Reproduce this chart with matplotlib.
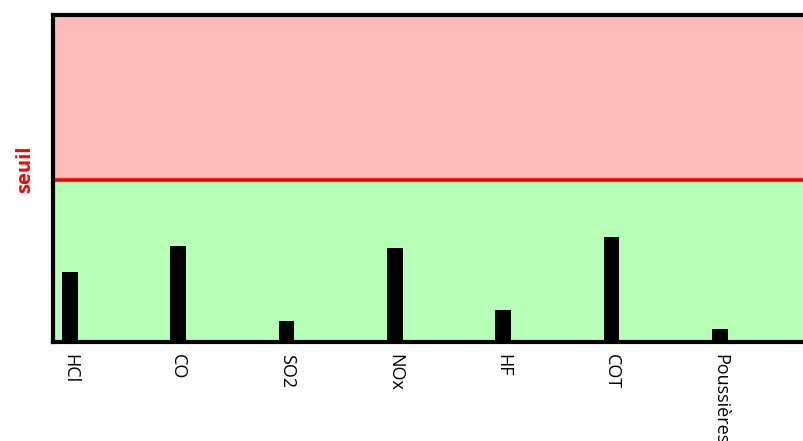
import matplotlib
matplotlib.use("Agg")
import matplotlib.pyplot as plt
import numpy as np

categories = ["HCl", "CO", "SO2", "NOx", "HF", "COT", "Poussières"]
values = [43, 59, 13, 58, 20, 65, 8]
threshold = 100
ymax = 202

W, H = 804, 441
fig = plt.figure(figsize=(W / 100, H / 100), dpi=100)
left_px, right_px, top_px, bottom_px = 53, 830, 15, 342
ax = fig.add_axes([left_px / W, 1 - bottom_px / H, (right_px - left_px) / W, (bottom_px - top_px) / H])

x = np.arange(len(categories))
spacing_px = 108.3
x0 = -(70 - left_px) / spacing_px
ax.set_xlim(x0, x0 + (right_px - left_px) / spacing_px)
ax.set_ylim(0, ymax)

ax.axhspan(0, threshold, color="#b7ffb7", zorder=0)
ax.axhspan(threshold, ymax, color="#ffbaba", zorder=0)
ax.axhline(threshold, color="#ff0000", lw=2.6, zorder=2)

ax.bar(x, values, width=0.145, color="black", zorder=3)

ax.set_xticks(x)
ax.set_xticklabels(categories, rotation=-90, fontsize=13, family="Open Sans", va="top", ha="center")
ax.tick_params(axis="x", length=0, pad=9)
for lbl in ax.get_xticklabels():
    lbl.set_x(lbl.get_position()[0])
ax.set_yticks([])

for s in ["left", "top", "bottom"]:
    ax.spines[s].set_linewidth(3)
    ax.spines[s].set_color("black")
ax.spines["right"].set_visible(False)

ax.text(-0.036, 107, "seuil", color="#ff0000", fontsize=14.5, fontweight="bold", family="Open Sans",
        rotation=90, ha="center", va="center", transform=ax.get_yaxis_transform())

fig.savefig("out.png", dpi=100)
